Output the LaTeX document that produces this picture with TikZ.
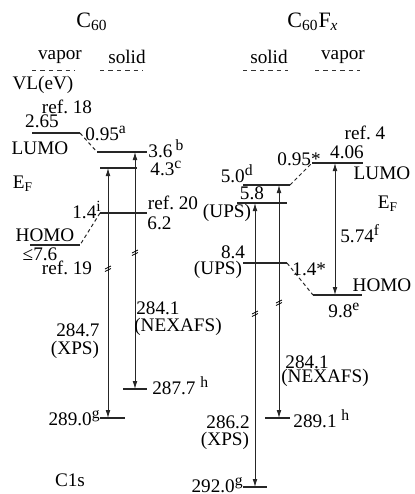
\documentclass[tikz,border=0pt]{standalone}
\usepackage{fontspec}
\setmainfont{Liberation Serif}
\usetikzlibrary{arrows.meta}
\newcommand{\supmark}[1]{\raisebox{0.75ex}{\fontsize{7.8}{8}\selectfont #1}}
\tikzset{
  lbl/.style={inner sep=0pt, font=\fontsize{9.6}{10.5}\selectfont},
  head/.style={inner sep=0pt, font=\fontsize{11}{12}\selectfont},
  lvl/.style={draw=black!85, line width=0.6pt},
  conn/.style={draw=black!85, line width=0.5pt, dash pattern=on 1.8pt off 1.4pt},
  phase/.style={draw=black!80, line width=0.5pt, dash pattern=on 2.2pt off 2pt},
  arrow/.style={{Latex[length=4pt,width=2.4pt]}-{Latex[length=4pt,width=2.4pt]}, draw=black!85, line width=0.45pt},
  brk/.pic={\draw[line width=0.4pt] (-3,1) -- (3,-2) (-3,3.5) -- (3,0.5);}
}
\begin{document}
\begin{tikzpicture}[x=0.5pt, y=-0.5pt]
\useasboundingbox (0,0) rectangle (414,494);
% headers
\node[head] (hC) at (92,22) {C\textsubscript{60}};
\node[head] (hCF) at (313,22) {C\textsubscript{60}F\textsubscript{\itshape x}};
\node[lbl] (vapL) at (60,57) {vapor};
\node[lbl] (solL) at (127,57) {solid};
\node[lbl] (solR) at (269,57) {solid};
\node[lbl] (vapR) at (343,57) {vapor};
\foreach \xa/\xb in {32/75, 100/143, 243/288, 315/360}
  \draw[phase] (\xa,70) -- (\xb,70);
% energy levels
\foreach \n/\xa/\xb/\y in {v265/32/80/133, s36/97/147/152, s43/100/137/168,
    s62/100/147/213, vhomo/30/80/245, c877/123/147/389, c890/100/125/418,
    flumo/312/363/163, f50/243/290/185, f58/237/287/203, f84/243/287/263,
    fhomo/313/362/295, c891/265/290/418, c920/243/267/487}{
  \coordinate (\n-w) at (\xa,\y);
  \coordinate (\n-e) at (\xb,\y);
  \draw[lvl] (\n-w) -- (\n-e);
}
\draw[conn] (v265-e) -- (s36-w);
\draw[conn] (s62-w) -- (vhomo-e);
\draw[conn] (f50-e) -- (flumo-w);
\draw[conn] (f84-e) -- (fhomo-w);
% transitions
\foreach \n/\x/\ya/\yb in {axl/108/168/418, anl/135/152/389, avr/335/163/295,
    axr/255/203/487, anr/279/185/418}{
  \coordinate (\n-t) at (\x,\ya);
  \coordinate (\n-b) at (\x,\yb);
  \draw[arrow] (\n-t) -- (\n-b);
}
\foreach \x/\y in {108/268, 135/252, 255/313, 279/302}
  \pic at (\x,\y) {brk};
% C60 labels
\node[lbl] (vl) at (43,85) {VL(eV)};
\node[lbl] (r18) at (67,107) {ref.\ 18};
\node[lbl] (t265) at (42,121) {2.65};
\node[lbl, anchor=base west] (t095a) at (85,140) {0.95\supmark{a}};
\node[lbl] (lumoL) at (40,148) {LUMO};
\node[lbl, anchor=base west] (t36) at (148,157) {3.6\,\supmark{b}};
\node[lbl, anchor=base west] (t43) at (150,175) {4.3\supmark{c}};
\node[lbl] (efL) at (23,184) {E\textsubscript{F}};
\node[lbl, anchor=base west] (t14i) at (72,218) {1.4\supmark{i}};
\node[lbl, anchor=base west] (t62) at (147,229) {6.2};
\node[lbl] (r20) at (173,203) {ref.\ 20};
\node[lbl] (homoL) at (45,235) {HOMO};
\node[lbl] (t76) at (40,254) {≤7.6};
\node[lbl] (r19) at (67,268) {ref.\ 19};
\node[lbl] (t847) at (78,330) {284.7};
\node[lbl] (xpsL) at (75,350) {(XPS)};
\node[lbl] (t841L) at (158,308) {284.1};
\node[lbl] (nexL) at (178,327) {(NEXAFS)};
\node[lbl, anchor=base west] (t877) at (152,394) {287.7 \supmark{h}};
\node[lbl, anchor=base east] (t890) at (100,425) {289.0\supmark{g}};
\node[lbl] (c1s) at (70,480) {C1s};
% C60Fx labels
\node[lbl] (r4) at (365,133) {ref.\ 4};
\node[lbl] (t406) at (347,152) {4.06};
\node[lbl, anchor=base west] (t095s) at (277,165) {0.95*};
\node[lbl] (lumoR) at (382,173) {LUMO};
\node[lbl, anchor=base east] (t50) at (253,182) {5.0\supmark{d}};
\node[lbl] (t58) at (252,193) {5.8};
\node[lbl] (upsA) at (227,213) {(UPS)};
\node[lbl] (efR) at (388,204) {E\textsubscript{F}};
\node[lbl, anchor=base west] (t574) at (340,242) {5.74\supmark{f}};
\node[lbl] (t84) at (233,252) {8.4};
\node[lbl] (upsB) at (218,270) {(UPS)};
\node[lbl, anchor=base west] (t14s) at (292,275) {1.4*};
\node[lbl] (homoR) at (382,285) {HOMO};
\node[lbl, anchor=base west] (t98) at (328,317) {9.8\supmark{e}};
\node[lbl] (t841R) at (307,362) {284.1};
\node[lbl] (nexR) at (325,378) {(NEXAFS)};
\node[lbl, anchor=base west] (t891) at (293,427) {289.1 \supmark{h}};
\node[lbl] (t862) at (228,422) {286.2};
\node[lbl] (xpsR) at (225,441) {(XPS)};
\node[lbl, anchor=base east] (t920) at (243,492) {292.0\supmark{g}};
\end{tikzpicture}
\end{document}
